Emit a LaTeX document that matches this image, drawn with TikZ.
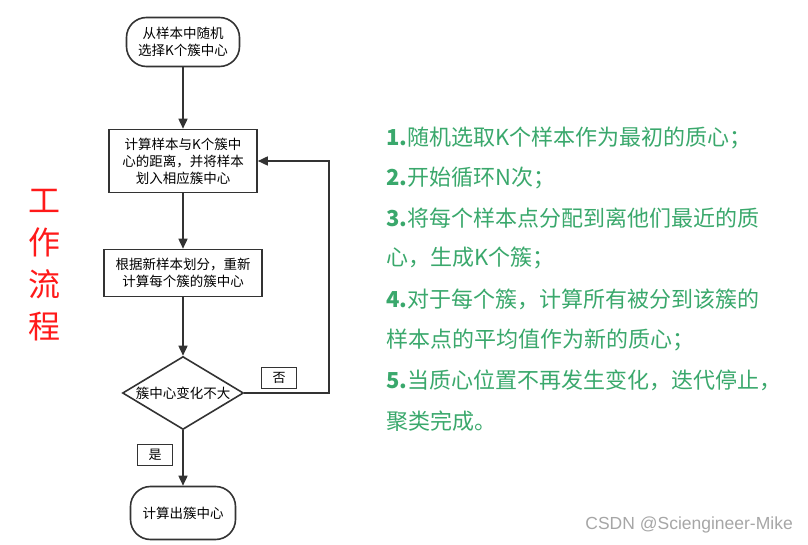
\documentclass[tikz,border=0pt]{standalone}
\usepackage{fontspec}
\setmainfont{Noto Sans CJK SC}
\newfontfamily\wmfont{Liberation Sans}
\usetikzlibrary{shapes.geometric,arrows.meta,positioning}
\definecolor{flowGray}{RGB}{51,51,51}
\definecolor{stepGreen}{RGB}{58,168,108}
\definecolor{titleRed}{RGB}{255,25,25}

\begin{document}
\begin{tikzpicture}[x=1pt,y=-1pt,
        term/.style={draw=flowGray, line width=1.6pt, rounded corners=20pt,
          font=\fontsize{13.5}{17.5}\selectfont, inner sep=0pt, align=center},
        proc/.style={draw=flowGray, line width=1.6pt,
          font=\fontsize{13.5}{17}\selectfont, inner sep=0pt, align=center},
        cond/.style={diamond, draw=flowGray, line width=1.6pt, aspect=1.66,
          font=\fontsize{13.5}{17}\selectfont, inner sep=0pt,
          minimum width=121pt, minimum height=73pt},
        tag/.style={draw=flowGray, line width=1.2pt, inner sep=0pt,
          minimum width=35pt, minimum height=21pt, font=\fontsize{13}{13}\selectfont},
        flow/.style={-{Triangle[length=10pt,width=9pt]}, line width=1.6pt, flowGray},
        >=Stealth
      ]
        \useasboundingbox (0,0) rectangle (808,545);
        % flowchart
        \node[term, minimum width=113pt, minimum height=49pt] (start) at (183,42) {从样本中随机\\选择K个簇中心};
        \node[proc, minimum width=148pt, minimum height=63pt] (assign) at (183,161) {计算样本与K个簇中\\心的距离，并将样本\\划入相应簇中心};
        \node[proc, minimum width=158pt, minimum height=47pt] (update) at (183,273) {根据新样本划分，重新\\计算每个簇的簇中心};
        \node[cond] (check) at (183,393) {簇中心变化不大};
        \node[term, minimum width=105pt, minimum height=53pt] (done) at (183,513) {计算出簇中心};
        \node[tag] (no) at (279,378) {否};
        \node[tag] (yes) at (155,455) {是};
        \coordinate (loop) at (329,393);
        \draw[flow] (start) -- (assign);
        \draw[flow] (assign) -- (update);
        \draw[flow] (update) -- (check);
        \draw[flow] (check) -- (done);
        \draw[flow] (check.east) -- (loop) |- (assign.east);
        % side texts
        \node[titleRed, font=\fontsize{32}{42}\selectfont, align=center] (title) at (44,265) {工\\作\\流\\程};
        \foreach \y/\t in {138/{\textbf{1.}随机选取K个样本作为最初的质心；},
                           178/{\textbf{2.}开始循环N次；},
                           218/{\textbf{3.}将每个样本点分配到离他们最近的质},
                           258/{心，生成K个簇；},
                           299/{\textbf{4.}对于每个簇，计算所有被分到该簇的},
                           340/{样本点的平均值作为新的质心；},
                           380/{\textbf{5.}当质心位置不再发生变化，迭代停止，},
                           421/{聚类完成。}}
          \node[stepGreen, anchor=west, inner sep=0pt, font=\fontsize{22}{22}\selectfont] at (386,\y) {\t};
        \node[gray!70, anchor=east, inner sep=0pt, font=\wmfont\fontsize{17.5}{17.5}\selectfont] (mark) at (793,525) {CSDN @Sciengineer-Mike};
      \end{tikzpicture}
\end{document}
